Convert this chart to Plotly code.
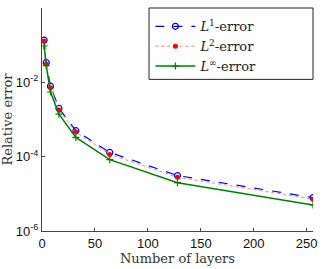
import plotly.graph_objects as go

layers = [2, 4, 8, 16, 32, 64, 128, 256]
err_l1 = [0.137, 0.034, 0.0079, 0.0020, 5.0e-4, 1.3e-4, 3.1e-5, 7.9e-6]
err_l2 = [0.130, 0.031, 0.0072, 0.0018, 4.6e-4, 1.15e-4, 2.8e-5, 7.2e-6]
err_linf = [0.095, 0.028, 0.0055, 0.0014, 3.3e-4, 8.3e-5, 2.0e-5, 5.0e-6]

y_tickvals = [1, 1e-2, 1e-4, 1e-6]
y_ticktext = ["10<sup>0</sup>", "10<sup>-2</sup>", "10<sup>-4</sup>", "10<sup>-6</sup>"]
x_tickvals = [0, 50, 100, 150, 200, 250]

serif = "DejaVu Serif"
sans = "Liberation Sans"

fig = go.Figure()
fig.add_trace(go.Scatter(
    x=layers, y=err_l1, mode="lines+markers",
    name="<i>L</i><sup>1</sup>-error",
    line=dict(color="#0000ff", dash="dash", width=1.2),
    marker=dict(symbol="circle-open", size=6, color="#0000ff", line=dict(width=1.2)),
))
fig.add_trace(go.Scatter(
    x=layers, y=err_l2, mode="lines+markers",
    name="<i>L</i><sup>2</sup>-error",
    line=dict(color="#ff8080", dash="dot", width=1),
    marker=dict(symbol="circle", size=5, color="#ff0000"),
))
fig.add_trace(go.Scatter(
    x=layers, y=err_linf, mode="lines+markers",
    name="<i>L</i><sup>∞</sup>-error",
    line=dict(color="#008000", width=1.5),
    marker=dict(symbol="cross-thin", size=5, color="#008000", line=dict(width=1.2, color="#008000")),
))

# legend frame (paper coordinates; plot area spans x 41..317 px, y 8..231 px)
fig.add_shape(type="rect", xref="paper", yref="paper",
              x0=0.395, x1=1.0, y0=0.68, y1=1.0,
              line=dict(color="#222", width=1), fillcolor="white", layer="above")

fig.update_layout(
    width=323, height=269,
    margin=dict(l=41, r=6, t=8, b=38),
    plot_bgcolor="white", paper_bgcolor="white",
    showlegend=True,
    legend=dict(
        x=0.40, y=0.985, xanchor="left", yanchor="top",
        borderwidth=0, bgcolor="rgba(0,0,0,0)",
        font=dict(family=serif, size=13, color="#222"),
        tracegroupgap=0, itemwidth=40,
    ),
    xaxis=dict(
        range=[0, 256], tickvals=x_tickvals,
        showline=True, linecolor="#444", linewidth=1,
        ticks="inside", ticklen=3, tickcolor="#444",
        showgrid=False, zeroline=False, mirror=False,
        tickfont=dict(family=sans, size=13, color="#111"),
        title=dict(text="Number of layers", font=dict(family=serif, size=13, color="#333"), standoff=3),
    ),
    yaxis=dict(
        type="log", range=[-6, 0], tickvals=y_tickvals, ticktext=y_ticktext,
        showline=True, linecolor="#444", linewidth=1,
        ticks="inside", ticklen=3, tickcolor="#444",
        showgrid=False, zeroline=False, mirror=False,
        tickfont=dict(family=sans, size=13, color="#111"),
        title=dict(text="Relative error", font=dict(family=serif, size=13, color="#333"), standoff=1),
    ),
)

fig.write_html("out.html")
